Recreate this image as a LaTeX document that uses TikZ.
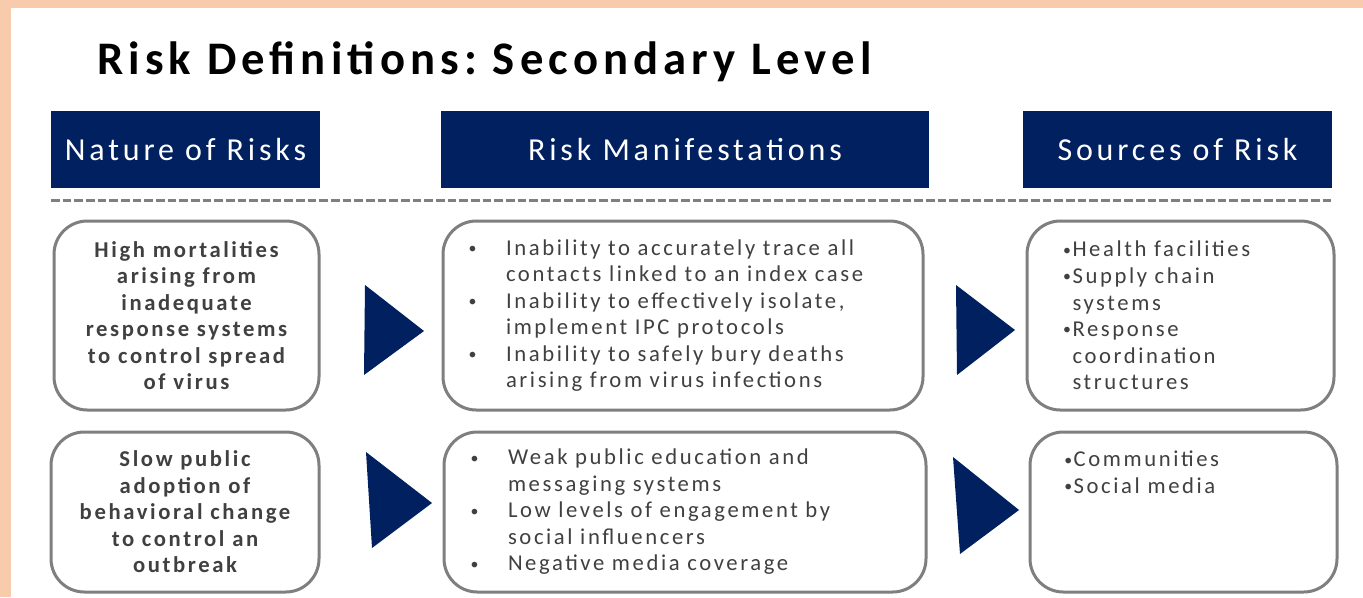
\documentclass[tikz,border=0pt]{standalone}
\usepackage{fontspec}
\setmainfont{Carlito}[LetterSpace=11.5]
\newfontfamily\titlefont{Carlito}[LetterSpace=11]
\newfontfamily\headfont{Carlito}[LetterSpace=12]
\usetikzlibrary{positioning}
\frenchspacing

\definecolor{peach}{HTML}{F8CBAD}
\definecolor{navy}{HTML}{002060}
\definecolor{txtgray}{HTML}{404040}
\definecolor{rimgray}{HTML}{7F7F7F}

\newcommand{\smallbul}{\raisebox{0.08em}{\scalebox{0.7}{\textbullet}}}
\newcommand{\itembul}{\makebox[30pt][l]{\hspace{2pt}\smallbul}}
\newcommand{\itemgap}{\hspace*{30pt}}
\newcommand{\srcbul}{\makebox[7pt][l]{\smallbul}}
\newcommand{\srcgap}{\hspace*{7pt}}

\tikzset{
    head/.style={fill=navy, text=white, minimum height=57.75pt, inner sep=0pt,
        font=\headfont\fontsize{24}{28}\selectfont},
    riskbox/.style={draw=rimgray, line width=2.25pt, rounded corners=25pt,
        inner sep=0pt, text=txtgray, font=\fontsize{17}{19.9}\selectfont},
    natbox/.style={riskbox, align=center, font=\fontsize{17}{19.9}\selectfont\bfseries},
    arrowtri/.style={fill=navy}
}

\begin{document}
\begin{tikzpicture}[x=0.75pt, y=-0.75pt]
    \useasboundingbox (0,0) rectangle (1363,597);
    \fill[peach] (0,0) rectangle (1363,597);
    \fill[white] (11,8) rectangle (1363,597);

    \node[anchor=west, inner sep=0pt, font=\titlefont\bfseries\fontsize{35}{40}\selectfont] (title) at (97,62) {Risk Definitions: Secondary Level};

    \node[head, minimum width=201.75pt] (nature) at (185.5,149.5) {Nature of Risks};
    \node[head, minimum width=366pt] (manif) at (685,149.5) {Risk Manifestations};
    \node[head, minimum width=231.75pt] (sources) at (1177.5,149.5) {Sources of Risk};

    \draw[rimgray, line width=2.25pt, dash pattern=on 6.5pt off 2.25pt] (51,200) -- (1332,200);

    % first row
    \node[natbox, minimum width=198.75pt, minimum height=141.75pt] (mortal) at (186.5,315.5)
        {High mortalities\\arising from\\inadequate\\response systems\\to control spread\\of virus};
    \node[riskbox, minimum width=360pt, minimum height=141.75pt, text width=325.5pt, align=left] (trace) at (683,315.5)
        {\itembul Inability to accurately trace all\\
         \itemgap contacts linked to an index case\\
         \itembul Inability to effectively isolate,\\
         \itemgap implement IPC protocols\\
         \itembul Inability to safely bury deaths\\
         \itemgap arising from virus infections};
    \node[riskbox, minimum width=230.25pt, minimum height=141.75pt, text width=176pt, align=left] (health) at (1180.5,315.5)
        {\srcbul Health facilities\\
         \srcbul Supply chain\\
         \srcgap systems\\
         \srcbul Response\\
         \srcgap coordination\\
         \srcgap structures};

    % second row
    \node[natbox, minimum width=201pt, minimum height=120pt] (adopt) at (185,512)
        {Slow public\\adoption of\\behavioral change\\to control an\\outbreak};
    \node[riskbox, minimum width=361.5pt, minimum height=120pt, text width=325.5pt, align=left] (educ) at (685,512)
        {\itembul Weak public education and\\
         \itemgap messaging systems\\
         \itembul Low levels of engagement by\\
         \itemgap social influencers\\
         \itembul Negative media coverage};
    \node[riskbox, minimum width=230.25pt, minimum height=120pt] (commun) at (1183.5,512) {};
    \node[anchor=north west, inner sep=0pt, text=txtgray, align=left,
        font=\fontsize{17}{19.9}\selectfont] (commtext) at (1064,451)
        {\srcbul Communities\\
         \srcbul Social media};

    % arrows between the boxes
    \fill[arrowtri] (365,285) -- (424,331) -- (364,375) -- cycle;
    \fill[arrowtri] (956,285) -- (1015,330) -- (957,375) -- cycle;
    \fill[arrowtri] (366,452) -- (432,503) -- (372,548) -- cycle;
    \fill[arrowtri] (953,457) -- (1019,510) -- (960,554) -- cycle;
\end{tikzpicture}
\end{document}
